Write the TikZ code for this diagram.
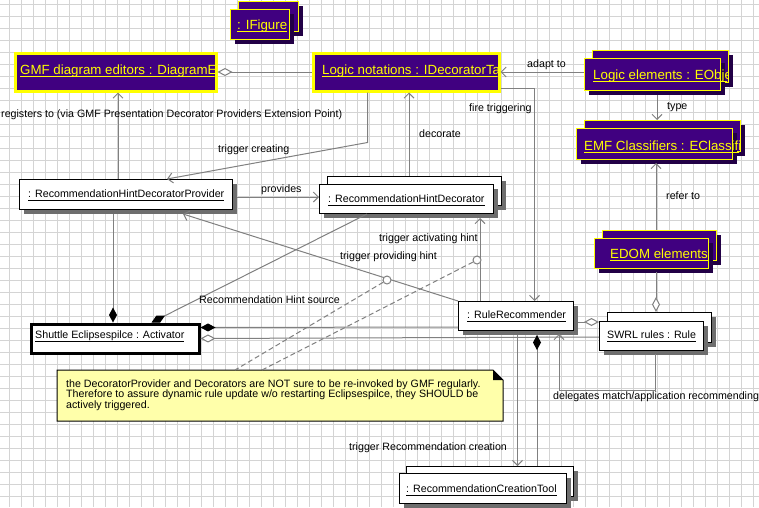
\documentclass[tikz,border=0pt]{standalone}
\usepackage{fontspec}
\setmainfont{Liberation Sans}
\usetikzlibrary{arrows.meta,calc,shadows}

\definecolor{gridc}{RGB}{212,212,212}
\definecolor{purp}{RGB}{64,0,128}
\definecolor{purpshadow}{RGB}{34,0,70}
\definecolor{yel}{RGB}{255,255,0}
\definecolor{conn}{RGB}{128,128,128}
\definecolor{boxshadow}{RGB}{110,110,110}
\definecolor{notefill}{RGB}{255,255,170}

% underlined object name, #1 = depth of the rule below the baseline
\newsavebox\ulinebox
\newcommand\ulined[2]{\sbox\ulinebox{#2}\rlap{\rule[#1]{\wd\ulinebox}{1pt}}\usebox\ulinebox}

\tikzset{
  umlv/.tip={Straight Barb[length=5pt,width=10pt]},
  umlod/.tip={Diamond[length=15pt,width=8pt,fill=white]},
  umlfd/.tip={Diamond[length=15pt,width=8pt,color=black,fill=black]},
  cn/.style={draw=conn, line width=1pt},
  boxbase/.style={rectangle, inner sep=0pt, anchor=north west},
  wbox/.style={boxbase, draw=black, fill=white, line width=1pt,
    drop shadow={shadow xshift=4pt, shadow yshift=-4pt, fill=boxshadow, opacity=1}},
  abox/.style={boxbase, draw=black, fill=white, line width=3pt},
  pbox/.style={boxbase, draw=yel, fill=purp, line width=1pt,
    drop shadow={shadow xshift=4pt, shadow yshift=-4pt, fill=purpshadow, opacity=1}},
  pthick/.style={boxbase, draw=yel, fill=purp, line width=3pt},
  lbl/.style={inner sep=0pt, anchor=base west, text=black,
    font=\fontsize{10.67pt}{12pt}\selectfont},
  ptxt/.style={inner sep=0pt, anchor=base west, text=yel,
    font=\fontsize{13.3pt}{15pt}\selectfont},
  circ/.style={circle, draw=conn, fill=white, line width=1pt, inner sep=0pt, minimum size=8pt},
}

\begin{document}
\begin{tikzpicture}[x=1pt,y=-1pt]
\useasboundingbox (0,0) rectangle (759,507);
\fill[white] (0,0) rectangle (759,507);

% background grid
\foreach \gx in {9,21,...,753} \draw[gridc, line width=1pt] (\gx,0) -- (\gx,507);
\foreach \gy in {4,16,...,496} \draw[gridc, line width=1pt] (0,\gy) -- (759,\gy);

% ---- purple (figure) objects ----
\node[pbox, minimum width=60pt, minimum height=30pt] (figB) at (238,1) {};
\node[pbox, minimum width=59pt, minimum height=30pt] (figF) at (230,9) {};
\begin{scope}
  \clip (231,10) rectangle (288,38);
  \node[ptxt] (figT) at (237,29) {\ulined{-2.5pt}{: IFigure}};
\end{scope}

\node[pthick, minimum width=201pt, minimum height=38pt] (gmf) at (13.5,51.5) {};
\begin{scope}
  \clip ($(gmf.north west)+(3,3)$) rectangle ($(gmf.south east)+(-3,-3)$);
  \node[ptxt] (gmfT) at (20,74) {\ulined{-2.5pt}{GMF diagram editors : DiagramE}};
\end{scope}

\node[pthick, minimum width=186pt, minimum height=38pt] (notn) at (311.5,51.5) {};
\begin{scope}
  \clip ($(notn.north west)+(3,3)$) rectangle ($(notn.south east)+(-3,-3)$);
  \node[ptxt] (notnT) at (322,74) {\ulined{-2.5pt}{Logic notations : IDecoratorTar}};
\end{scope}

\node[pbox, minimum width=136pt, minimum height=32pt] (elemB) at (592,50) {};
\node[pbox, minimum width=136pt, minimum height=32pt] (elemF) at (584,58) {};
\begin{scope}
  \clip (585,59) rectangle (727,89);
  \node[ptxt] (elemT) at (593,79) {\ulined{-2.5pt}{Logic elements : EObjec}};
\end{scope}

\node[pbox, minimum width=156pt, minimum height=31pt] (emfB) at (584,120) {};
\node[pbox, minimum width=156pt, minimum height=31pt] (emfF) at (576,128) {};
\begin{scope}
  \clip (577,129) rectangle (739,158);
  \node[ptxt] (emfT) at (584,150) {\ulined{-2.5pt}{EMF Classifiers : EClassifie}};
\end{scope}

\node[pbox, minimum width=114pt, minimum height=30pt] (edomB) at (602,230) {};
\node[pbox, minimum width=114pt, minimum height=30pt] (edomF) at (594,238) {};
\node[ptxt] (edomT) at (610,258) {\ulined{-2.5pt}{EDOM elements}};

% ---- white (runtime) objects ----
\node[wbox, minimum width=213pt, minimum height=30pt] (prov) at (19,179) {};
\node[lbl] (provT) at (28,197) {\ulined{-4pt}{: RecommendationHintDecoratorProvider}};

\node[wbox, minimum width=174pt, minimum height=29pt] (decB) at (327,176) {};
\node[wbox, minimum width=174pt, minimum height=29pt] (decF) at (319,184) {};
\node[lbl] (decT) at (328,202) {\ulined{-4pt}{: RecommendationHintDecorator}};

\node[abox, minimum width=168pt, minimum height=29pt] (act) at (29.5,322.5) {};
\node[lbl] (actT) at (35,338) {\ulined{-4pt}{Shuttle Eclipsespilce : Activator}};

\node[wbox, minimum width=115pt, minimum height=29pt] (rr) at (458,301) {};
\node[lbl] (rrT) at (467,318) {\ulined{-4pt}{: RuleRecommender}};

\node[wbox, minimum width=104pt, minimum height=30pt] (swrlB) at (607,312) {};
\node[wbox, minimum width=104pt, minimum height=29pt] (swrlF) at (599,321) {};
\node[lbl] (swrlT) at (607,338) {\ulined{-4pt}{SWRL rules : Rule}};

\node[wbox, minimum width=167pt, minimum height=30pt] (toolB) at (406,466) {};
\node[wbox, minimum width=167pt, minimum height=30pt] (toolF) at (399,473) {};
\node[lbl] (toolT) at (406,492) {\ulined{-4pt}{: RecommendationCreationTool}};

% ---- note ----
\node[rectangle, inner sep=0pt, outer sep=0pt, anchor=north west,
      minimum width=446pt, minimum height=51pt] (note) at (57,370) {};
\filldraw[fill=notefill, draw=black, line width=1pt]
  (note.north west) -- ($(note.north east)+(-10,0)$) -- ($(note.north east)+(0,10)$)
  -- (note.south east) -- (note.south west) -- cycle;
\fill[black] ($(note.north east)+(-10,0)$) -- ($(note.north east)+(0,10)$)
  -- ($(note.north east)+(-10,10)$) -- cycle;
\node[lbl] (noteT1) at (66,387) {the DecoratorProvider and Decorators are NOT sure to be re-invoked by GMF regularly.};
\node[lbl] (noteT2) at (66,397.5) {Therefore to assure dynamic rule update w/o restarting Eclipsespilce, they SHOULD be};
\node[lbl] (noteT3) at (66,408) {actively triggered.};

% ---- connectors ----
\draw[cn, umlod-] (gmf.east) -- (gmf.east -| notn.west);
\draw[cn, -umlv] (elemF.west |- notn.east) -- (notn.east);
\draw[cn, -umlv] ($(elemF.south west)+(73,4)$) -- ($(emfB.north west)+(73,0)$);
\draw[cn, -umlv] ($(edomB.north west)+(54,0)$) -- ($(emfF.south west)+(80,3)$);
\draw[cn, -umlod] ($(edomF.south west)+(62,3)$) -- ($(swrlB.north west)+(49,0)$);

\draw[cn, -umlv] ($(prov.north west)+(99,0)$) coordinate (r1) -- (r1 |- gmf.south);
\draw[cn, -umlv] ($(notn.south west)+(56,0)$) -- ++(0,50) -- ($(prov.north west)+(148,0)$);
\draw[cn, -umlv] ($(decB.north west)+(82,0)$) coordinate (d1) -- (d1 |- notn.south);
\draw[cn, -umlv] ($(notn.south east)+(0,-4)$) -- ++(34,0) coordinate (f1) -- (f1 |- rr.north);
\draw[cn, -umlv] ($(prov.south east)+(4,-13)$) coordinate (pv) -- (pv -| decF.west);
\draw[cn, -umlfd] ($(prov.south west)+(94,4)$) coordinate (p1) -- (p1 |- act.north);
\draw[cn, -umlfd] ($(decF.south west)+(48,0)$) -- ($(act.north west)+(122,0)$);
\draw[cn, -umlv] (rr.north west) -- ($(prov.south west)+(164,4)$);
\draw[cn, -umlv] ($(rr.north west)+(22,0)$) -- ($(decF.south west)+(161,4)$);
\draw[cn, umlfd-] ($(act.north east)+(0,5)$) -- ($(rr.south west)+(0,-4)$);
\draw[cn, umlod-] ($(act.north east)+(0,16)$) -- ($(swrlF.north west)+(0,16)$);
\draw[cn, -umlod] ($(rr.north east)+(4,21)$) -- ($(swrlF.north west)+(0,1)$);
\draw[cn, -umlv] ($(rr.south west)+(59.5,4)$) coordinate (t1) -- (t1 |- toolB.north);
\draw[cn, -umlfd] ($(toolB.north west)+(131,0)$) coordinate (t2) -- ($(t2 |- rr.south)+(0,4)$);
\draw[cn, -umlv] ($(swrlF.south west)+(56,3)$) -- ++(0,36) -| ($(rr.south west)+(101,3)$);

% note anchors on the two hint links
\node[circ] (c1) at (387,280) {};
\node[circ] (c2) at (477,260) {};
\draw[cn, dash pattern=on 5pt off 3pt] (c1) -- ($(note.north west)+(178,0)$);
\draw[cn, dash pattern=on 5pt off 3pt] (c2) -- ($(note.north west)+(205,0)$);

% ---- connector labels ----
\node[lbl] (l1) at (1,117) {registers to (via GMF Presentation Decorator Providers Extension Point)};
\node[lbl] (l2) at (527,67) {adapt to};
\node[lbl] (l3) at (469,111) {fire triggering};
\node[lbl] (l4) at (667,109) {type};
\node[lbl] (l5) at (218,152) {trigger creating};
\node[lbl] (l6) at (261,192) {provides};
\node[lbl] (l7) at (419,137) {decorate};
\node[lbl] (l8) at (666,199) {refer to};
\node[lbl] (l9) at (379,241) {trigger activating hint};
\node[lbl] (l10) at (340,259) {trigger providing hint};
\node[lbl] (l11) at (199,303) {Recommendation Hint source};
\node[lbl] (l12) at (553,399) {delegates match/application recommending};
\node[lbl] (l13) at (349,450) {trigger Recommendation creation};
\end{tikzpicture}
\end{document}
